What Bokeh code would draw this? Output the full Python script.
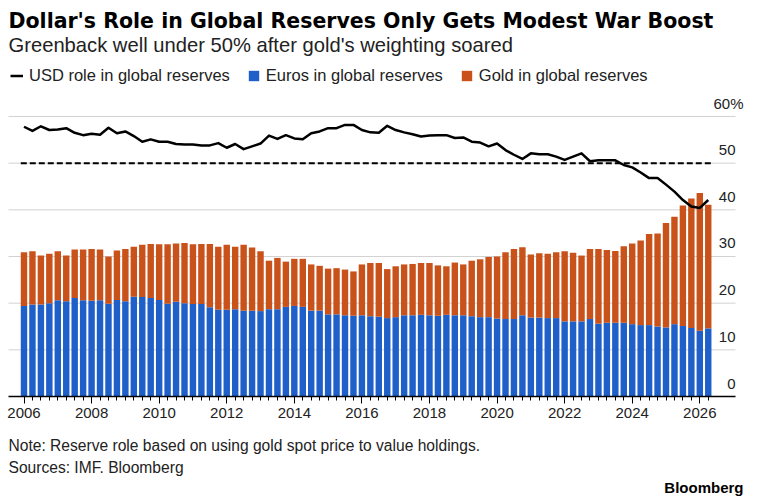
from bokeh.plotting import figure
from bokeh.models import (ColumnDataSource, FixedTicker, Label, Legend, LegendItem,
                          LinearAxis, Range1d)
from bokeh.core.properties import value
from bokeh.embed import file_html
from bokeh.resources import INLINE

# ---------------- data ----------------
quarters = [f"{y}Q{q}" for y in range(2006, 2027) for q in range(1, 5)][:82]

usd_share = [57.8, 56.9, 57.9, 57.1, 57.2, 57.5, 56.5, 56.0, 56.3, 56.1,
             57.6, 56.4, 56.8, 55.8, 54.6, 55.1, 54.6, 54.6, 54.1, 54.0,
             54.0, 53.8, 53.8, 54.3, 53.3, 54.1, 53.0, 53.6, 54.2, 55.9,
             55.2, 56.0, 55.3, 55.1, 56.4, 56.8, 57.5, 57.5, 58.2, 58.2,
             57.1, 56.6, 56.5, 58.0, 57.1, 56.6, 56.2, 55.7, 55.9, 56.0,
             56.0, 55.4, 55.5, 54.6, 54.4, 53.6, 54.2, 52.8, 51.8, 50.9,
             52.1, 51.9, 51.9, 51.4, 50.7, 51.4, 52.1, 50.4, 50.6, 50.6,
             50.6, 49.6, 49.1, 48.0, 46.8, 46.8, 45.4, 43.9, 42.1, 40.7,
             40.4, 42.1]

euro_share = [19.4, 19.7, 19.7, 20.0, 20.6, 20.4, 21.1, 20.6, 20.5, 20.6,
              19.9, 20.7, 20.4, 21.4, 21.3, 21.1, 20.7, 19.9, 20.3, 20.0,
              19.8, 19.8, 19.1, 18.6, 18.6, 18.7, 18.4, 18.4, 18.3, 18.7,
              18.7, 19.2, 19.4, 19.2, 18.4, 18.4, 17.6, 17.6, 17.4, 17.3,
              17.4, 17.2, 17.1, 16.8, 17.0, 17.4, 17.4, 17.5, 17.4, 17.3,
              17.5, 17.4, 17.4, 17.2, 17.0, 17.0, 16.7, 16.6, 16.6, 17.4,
              16.9, 16.9, 16.8, 16.8, 16.1, 16.1, 16.1, 16.6, 15.6, 15.8,
              15.8, 15.8, 15.5, 15.3, 15.3, 15.0, 14.8, 15.5, 15.1, 14.7,
              14.1, 14.6]

gold_share = [11.5, 11.4, 10.5, 10.6, 10.5, 9.8, 10.4, 10.9, 11.1, 10.9,
              10.1, 10.6, 11.2, 10.7, 11.2, 11.6, 11.9, 12.7, 12.5, 12.9,
              12.8, 12.9, 13.6, 13.5, 13.9, 13.4, 14.1, 13.5, 12.8, 10.4,
              11.0, 9.7, 10.1, 10.3, 9.9, 9.6, 9.8, 9.9, 9.8, 9.5,
              10.9, 11.4, 11.5, 10.5, 10.9, 10.9, 11.0, 11.1, 11.2, 10.8,
              10.4, 11.3, 10.9, 11.9, 12.4, 12.9, 13.3, 14.3, 15.0, 14.6,
              13.5, 13.8, 13.8, 14.1, 15.0, 14.7, 14.1, 15.0, 16.0, 15.6,
              15.4, 16.4, 17.3, 18.1, 19.5, 19.9, 22.4, 23.0, 25.8, 27.7,
              29.5, 26.5]

x_tick_years = list(range(2006, 2027, 2))
y_tick_values = [0, 10, 20, 30, 40, 50, 60]
y_tick_labels = ["0", "10", "20", "30", "40", "50", "60%"]
reference_level = 50

series_names = ["USD role in global reserves", "Euros in global reserves",
                "Gold in global reserves"]
title_text = "Dollar's Role in Global Reserves Only Gets Modest War Boost"
subtitle_text = "Greenback well under 50% after gold's weighting soared"
note_text = "Note: Reserve role based on using gold spot price to value holdings."
source_text = "Sources: IMF. Bloomberg"
brand_text = "Bloomberg"

# ---------------- layout constants ----------------
BLUE = "#1e5fc9"
ORANGE = "#c9521b"
TEXT = "#222222"
FONT = "Liberation Sans"
W, H = 758, 504                # canvas == page
PX_PER_YEAR = 33.79
PX_PER_UNIT = 4.667
BASE_Y = 396                   # pixel y of the zero line
TICK0_X = 23.5                 # pixel x of 2006
X_START = 2006 - TICK0_X / PX_PER_YEAR
X_END = X_START + W / PX_PER_YEAR
Y_START = -(H - BASE_Y) / PX_PER_UNIT
Y_END = BASE_Y / PX_PER_UNIT
GRID_X0 = 2006 - (TICK0_X - 8) / PX_PER_YEAR
GRID_END = 2006 + (735 - TICK0_X) / PX_PER_YEAR
BAR_W = 0.19
BASELINE_FIX = 6               # renderer draws "alphabetic" text this much lower


def sy(px_y):
    """screen y (measured up from the canvas bottom) for a text baseline row"""
    return H - (px_y - BASELINE_FIX)


xq = [int(s[:4]) + (int(s[-1]) - 1) / 4 for s in quarters]
src = ColumnDataSource(dict(x=xq, euro=euro_share, gold=gold_share, usd=usd_share))

p = figure(width=W, height=H, x_range=Range1d(X_START, X_END),
           y_range=Range1d(Y_START, Y_END), x_axis_type=None, y_axis_type=None,
           toolbar_location=None, output_backend="svg",
           min_border=0, outline_line_color=None,
           background_fill_color="white", border_fill_color="white")
p.title_location = None

# grid lines
grid_vals = y_tick_values[1:]
p.segment(x0=[GRID_X0] * len(grid_vals), y0=grid_vals,
          x1=[GRID_END] * len(grid_vals), y1=grid_vals,
          line_color="#d2d2d2", line_width=1)

# bars
bars = p.vbar_stack(["euro", "gold"], x="x", width=BAR_W, color=[BLUE, ORANGE],
                    line_color=None, source=src)

# 50% reference line
p.segment(x0=[xq[0] - BAR_W / 2], y0=[reference_level],
          x1=[xq[-1] + BAR_W / 2], y1=[reference_level],
          line_color="black", line_width=2, line_dash="6 3")

# USD line
usd_line = p.line("x", "usd", source=src, line_color="black", line_width=2.5,
                  line_join="round")

# y labels (right side, above grid lines)
p.text(x=[GRID_END] * (len(y_tick_values) - 1), y=y_tick_values[:-1],
       text=y_tick_labels[:-1], text_align="right", text_baseline="alphabetic",
       y_offset=-13, text_font=value(FONT), text_font_size="15px",
       text_color=TEXT)
p.text(x=[GRID_END], y=y_tick_values[-1:], text=y_tick_labels[-1:],
       text_align="right", text_baseline="alphabetic", x_offset=8, y_offset=-13,
       text_font=value(FONT), text_font_size="15px", text_color=TEXT)

# x axis, drawn at the zero line inside the frame
minor = [xq[0] + i / 4 for i in range(len(xq))]
xaxis = LinearAxis(ticker=FixedTicker(ticks=x_tick_years, minor_ticks=minor),
                   bounds=(GRID_X0, GRID_END), fixed_location=0)
xaxis.axis_line_color = "black"
xaxis.axis_line_width = 1.5
xaxis.major_tick_in = 0
xaxis.major_tick_out = 7
xaxis.minor_tick_in = 0
xaxis.minor_tick_out = 4
xaxis.major_tick_line_color = "black"
xaxis.minor_tick_line_color = "black"
xaxis.major_label_text_font = FONT
xaxis.major_label_text_font_size = "15px"
xaxis.major_label_text_color = TEXT
xaxis.major_label_standoff = 4
p.add_layout(xaxis, "below")

# legend
legend = Legend(items=[LegendItem(label=series_names[0], renderers=[usd_line]),
                       LegendItem(label=series_names[1], renderers=[bars[0]]),
                       LegendItem(label=series_names[2], renderers=[bars[1]])],
                orientation="horizontal", location=(10, H - 85), padding=0, margin=0,
                spacing=17, label_standoff=6, glyph_width=13, glyph_height=13,
                label_text_font=FONT, label_text_font_size="16.5px",
                label_text_color=TEXT, background_fill_alpha=0,
                border_line_color=None)
p.add_layout(legend)


# header / footer texts
def add_label(text, x, y, font, size, style="normal", align="left", color=TEXT):
    p.add_layout(Label(x=x, y=y, x_units="screen", y_units="screen", text=text,
                       text_font=font, text_font_size=size, text_font_style=style,
                       text_align=align, text_baseline="alphabetic",
                       text_color=color))


add_label(title_text, 8, sy(26), "DejaVu Sans", "20.5px", "bold", color="black")
add_label(subtitle_text, 8, sy(50), FONT, "20.2px")
add_label(note_text, 8, sy(451), FONT, "15.6px")
add_label(source_text, 8, sy(472.5), FONT, "15.6px")
add_label(brand_text, 743, sy(493), FONT, "15px", "bold", "right", "black")

open("out.html", "w").write(file_html(p, INLINE))
